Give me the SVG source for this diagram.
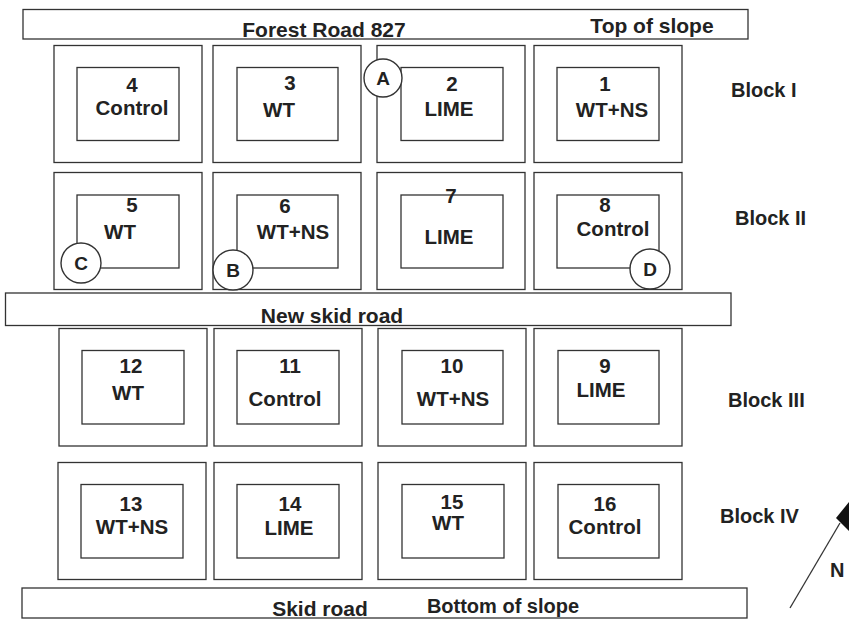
<svg xmlns="http://www.w3.org/2000/svg" width="849" height="620" viewBox="0 0 849 620">
<style>
  rect { fill: none; stroke: #333; stroke-width: 1.3; }
  rect.bg { fill: #fff; stroke: none; }
  .road { fill: #fff; }
  circle { fill: #fff; stroke: #333; stroke-width: 1.4; }
  text { font-family: "Liberation Sans", Arial, sans-serif; font-weight: bold; fill: #222; text-anchor: middle; }
  .lbl { font-size: 20.5px; }
  .road-t { font-size: 21px; }
  .blk { font-size: 20px; text-anchor: start; }
  .pt { font-size: 19px; }
</style>
<rect class="bg" x="0" y="0" width="849" height="620"/>

<g id="roads">
  <g id="forest-road">
    <rect class="road" x="23" y="9.5" width="725" height="29.5"/>
    <text class="road-t" x="324" y="37">Forest Road 827</text>
    <text class="road-t" x="652" y="33">Top of slope</text>
  </g>
  <g id="new-skid-road">
    <rect class="road" x="5.5" y="293" width="725.5" height="32.5"/>
    <text class="road-t" x="332" y="323">New skid road</text>
  </g>
  <g id="skid-road">
    <rect class="road" x="22" y="588" width="725" height="30"/>
    <text class="road-t" x="320" y="616">Skid road</text>
    <text class="road-t" x="503" y="613" style="font-size:20px">Bottom of slope</text>
  </g>
</g>

<g id="plot-4">
  <rect x="54" y="45.5" width="148" height="117"/>
  <rect x="77" y="67.5" width="102" height="73"/>
  <text class="lbl" x="132" y="92">4</text>
  <text class="lbl" x="132" y="115">Control</text>
</g>
<g id="plot-3">
  <rect x="213" y="45.5" width="148" height="117"/>
  <rect x="237" y="67.5" width="101" height="73"/>
  <text class="lbl" x="290" y="90">3</text>
  <text class="lbl" x="279" y="117">WT</text>
</g>
<g id="plot-2">
  <rect x="377" y="45.5" width="148" height="117"/>
  <rect x="401" y="67.5" width="102" height="73"/>
  <text class="lbl" x="452" y="91">2</text>
  <text class="lbl" x="449" y="116">LIME</text>
</g>
<g id="plot-1">
  <rect x="534" y="45.5" width="148" height="117"/>
  <rect x="557" y="67.5" width="102" height="73"/>
  <text class="lbl" x="605" y="91">1</text>
  <text class="lbl" x="612" y="117">WT+NS</text>
</g>

<g id="plot-5">
  <rect x="54" y="172.5" width="148" height="117"/>
  <rect x="77" y="195" width="102" height="73"/>
  <text class="lbl" x="132" y="212">5</text>
  <text class="lbl" x="120" y="239">WT</text>
</g>
<g id="plot-6">
  <rect x="213" y="172.5" width="148" height="117"/>
  <rect x="237" y="195" width="101" height="73"/>
  <text class="lbl" x="285" y="213">6</text>
  <text class="lbl" x="293" y="239">WT+NS</text>
</g>
<g id="plot-7">
  <rect x="377" y="172.5" width="148" height="117"/>
  <rect x="401" y="195" width="102" height="73"/>
  <text class="lbl" x="451" y="203">7</text>
  <text class="lbl" x="449" y="244">LIME</text>
</g>
<g id="plot-8">
  <rect x="534" y="172.5" width="148" height="117"/>
  <rect x="557" y="195" width="102" height="73"/>
  <text class="lbl" x="605" y="212">8</text>
  <text class="lbl" x="613" y="236">Control</text>
</g>

<g id="plot-12">
  <rect x="59" y="328.5" width="148" height="117.5"/>
  <rect x="82" y="350.5" width="102" height="73.5"/>
  <text class="lbl" x="131" y="373">12</text>
  <text class="lbl" x="128" y="400">WT</text>
</g>
<g id="plot-11">
  <rect x="214" y="328.5" width="148" height="117.5"/>
  <rect x="237" y="350.5" width="102" height="73.5"/>
  <text class="lbl" x="290" y="373">11</text>
  <text class="lbl" x="285" y="406">Control</text>
</g>
<g id="plot-10">
  <rect x="378" y="328.5" width="148" height="117.5"/>
  <rect x="402" y="350.5" width="101" height="73.5"/>
  <text class="lbl" x="452" y="373">10</text>
  <text class="lbl" x="453" y="406">WT+NS</text>
</g>
<g id="plot-9">
  <rect x="534" y="328.5" width="148" height="117.5"/>
  <rect x="558" y="350.5" width="101" height="73.5"/>
  <text class="lbl" x="605" y="373">9</text>
  <text class="lbl" x="601" y="397">LIME</text>
</g>

<g id="plot-13">
  <rect x="58" y="462.5" width="148" height="117"/>
  <rect x="81" y="484.5" width="102" height="73.5"/>
  <text class="lbl" x="131" y="511">13</text>
  <text class="lbl" x="132" y="534">WT+NS</text>
</g>
<g id="plot-14">
  <rect x="214" y="462.5" width="148" height="117"/>
  <rect x="237" y="484.5" width="102" height="73.5"/>
  <text class="lbl" x="290" y="511">14</text>
  <text class="lbl" x="289" y="535">LIME</text>
</g>
<g id="plot-15">
  <rect x="378" y="462.5" width="148" height="117"/>
  <rect x="402" y="484.5" width="102" height="73.5"/>
  <text class="lbl" x="452" y="509">15</text>
  <text class="lbl" x="448" y="530">WT</text>
</g>
<g id="plot-16">
  <rect x="534" y="462.5" width="148" height="117"/>
  <rect x="558" y="484.5" width="101" height="73.5"/>
  <text class="lbl" x="605" y="511">16</text>
  <text class="lbl" x="605" y="534">Control</text>
</g>

<g id="point-A">
  <circle cx="383" cy="78" r="19"/>
  <text class="pt" x="383" y="85">A</text>
</g>
<g id="point-B">
  <circle cx="233" cy="270" r="20"/>
  <text class="pt" x="233" y="277">B</text>
</g>
<g id="point-C">
  <circle cx="81" cy="263" r="20"/>
  <text class="pt" x="81" y="270">C</text>
</g>
<g id="point-D">
  <circle cx="650" cy="269" r="20"/>
  <text class="pt" x="650" y="276">D</text>
</g>

<g id="block-labels">
  <text class="blk" x="731" y="97">Block I</text>
  <text class="blk" x="735" y="225">Block II</text>
  <text class="blk" x="728" y="407">Block III</text>
  <text class="blk" x="720" y="523">Block IV</text>
</g>

<g id="north-arrow">
  <line x1="790" y1="608" x2="840" y2="523" stroke="#333" stroke-width="1.3"/>
  <polygon points="836,518 849,502 849,531" fill="#111"/>
  <text class="blk" x="830" y="577">N</text>
</g>
</svg>
